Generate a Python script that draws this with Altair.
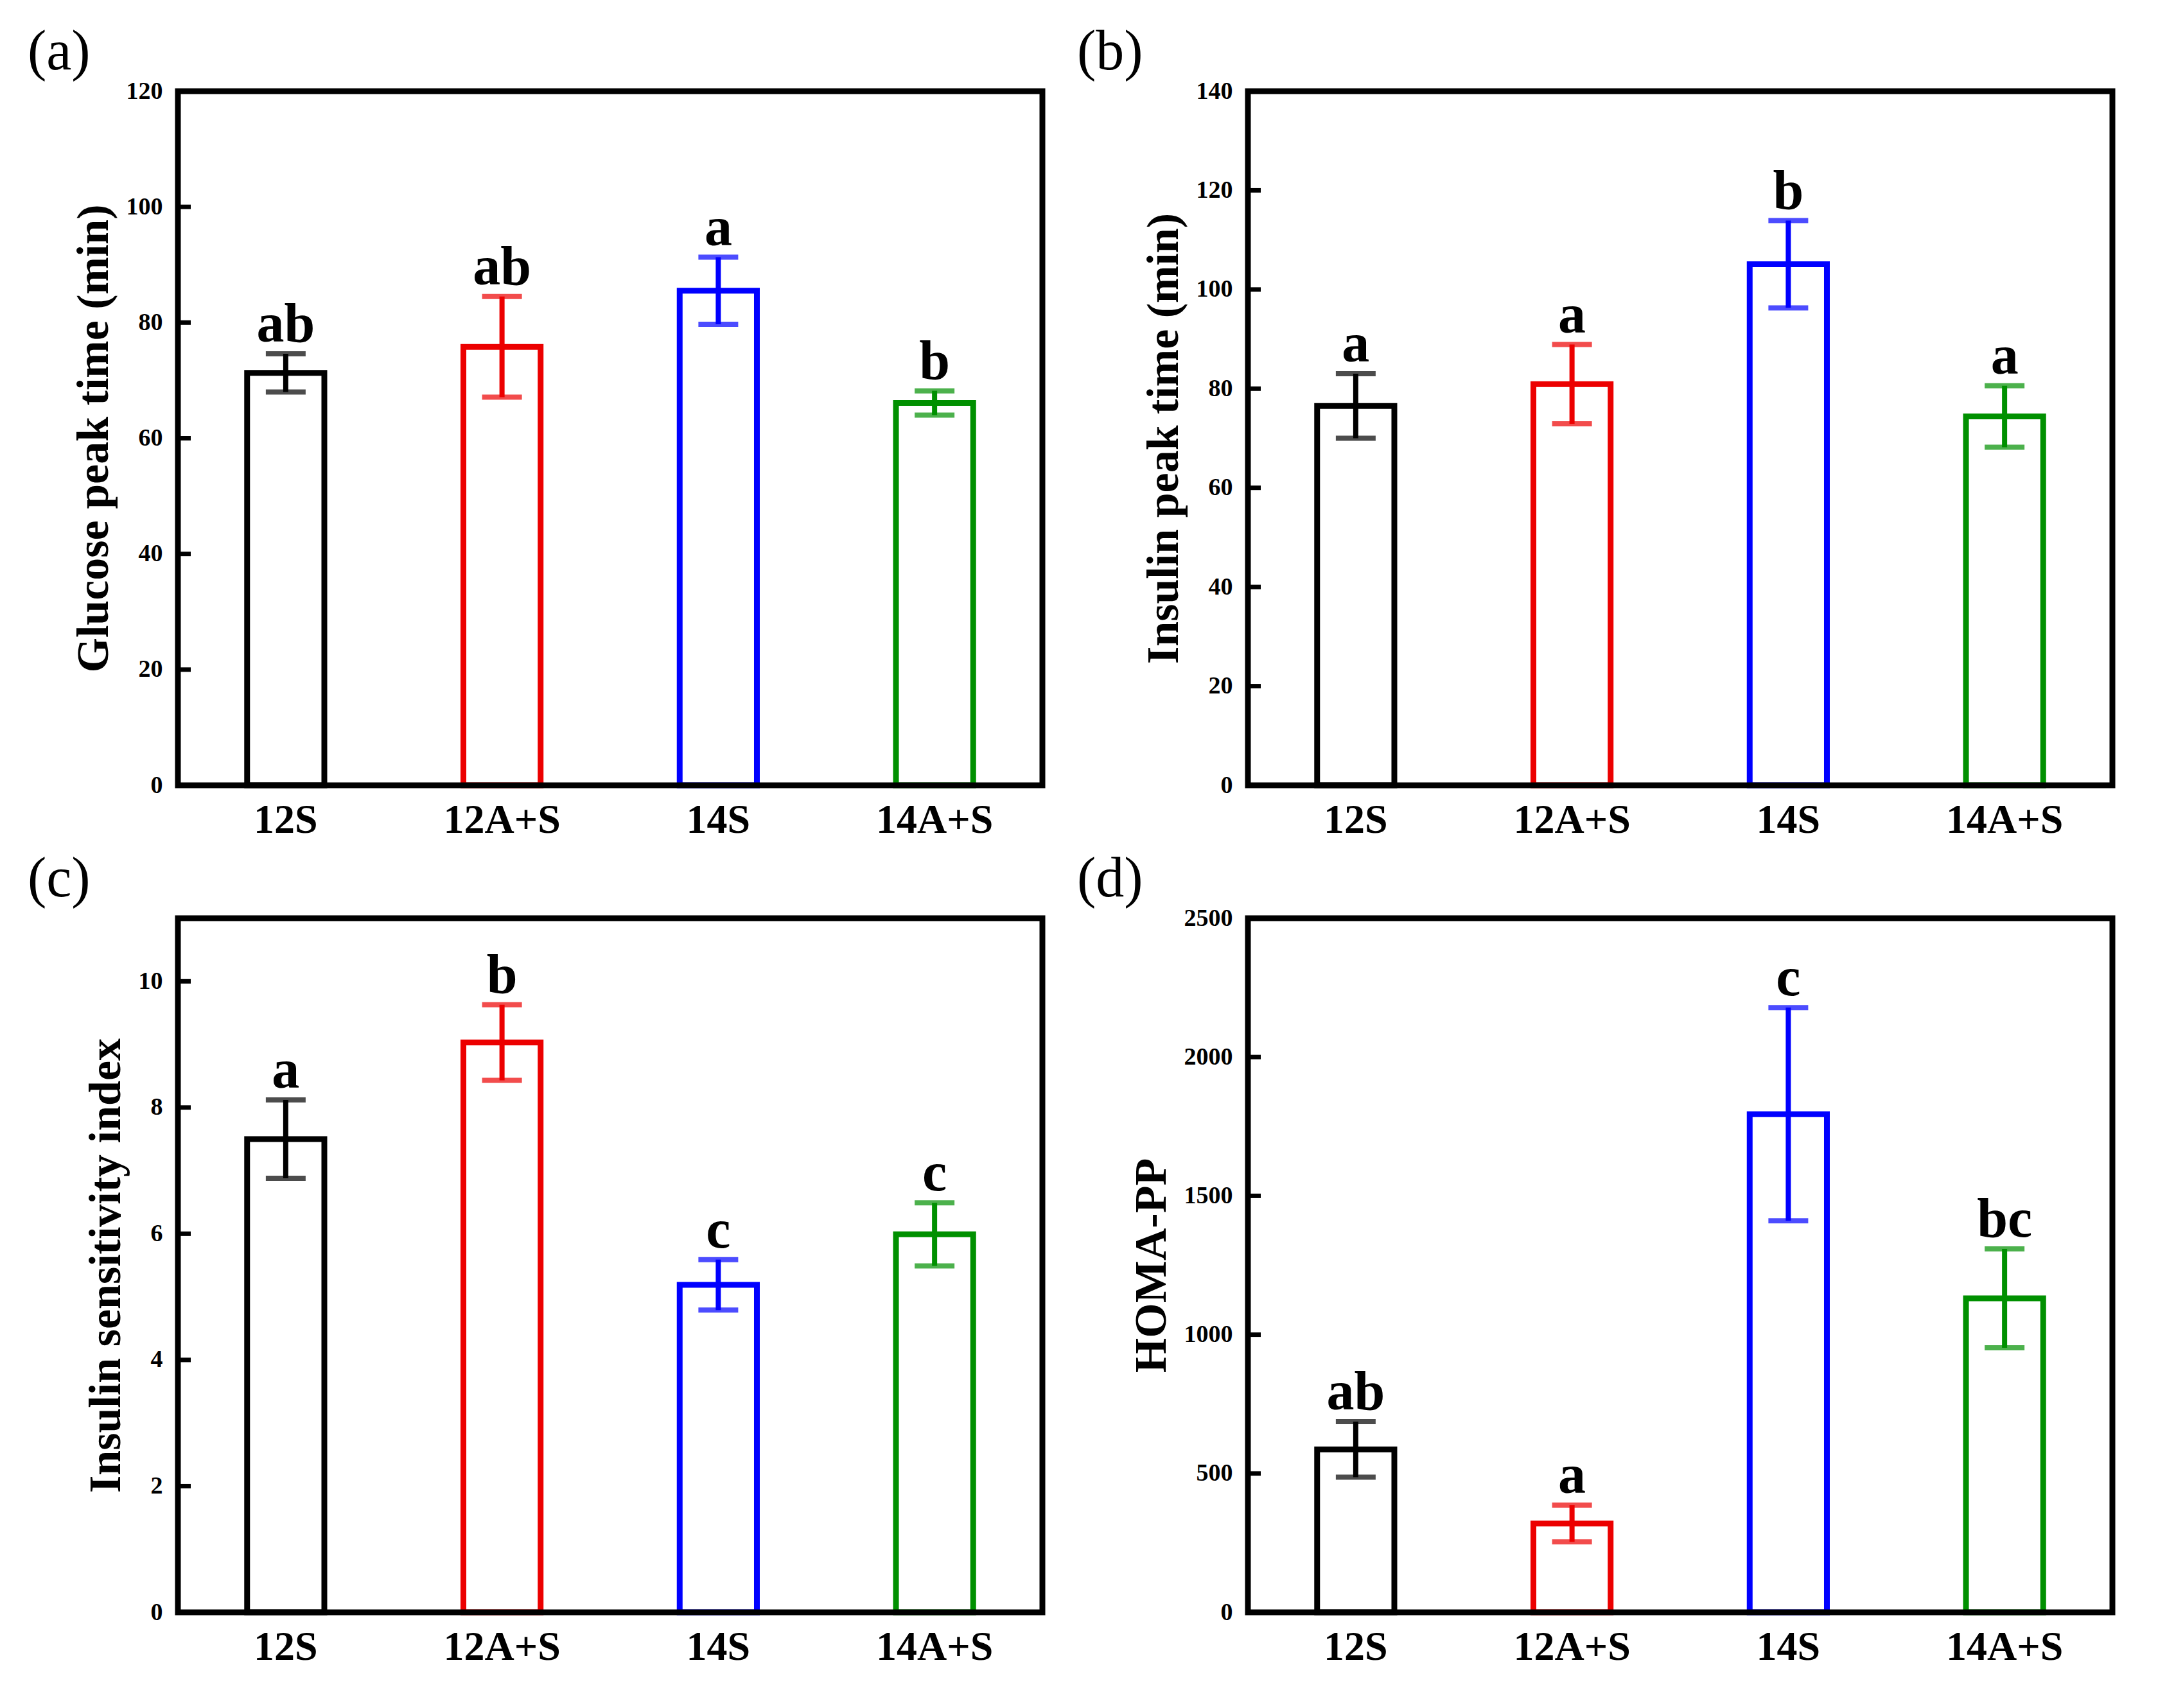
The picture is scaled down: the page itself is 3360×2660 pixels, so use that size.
import altair as alt
import pandas as pd

groups = ["12S", "12A+S", "14S", "14A+S"]
colors = ["#000000", "#ec0000", "#0000ff", "#009000"]

glucose_mean = [71.3, 75.8, 85.5, 66.1]
glucose_err = [3.3, 8.7, 5.8, 2.1]
glucose_letters = ["ab", "ab", "a", "b"]

insulin_mean = [76.5, 80.9, 105.1, 74.4]
insulin_err = [6.5, 8.0, 8.8, 6.2]
insulin_letters = ["a", "a", "b", "a"]

isi_mean = [7.50, 9.03, 5.19, 5.99]
isi_err = [0.62, 0.60, 0.40, 0.50]
isi_letters = ["a", "b", "c", "c"]

homa_mean = [587, 320, 1794, 1131]
homa_err = [100, 66, 384, 178]
homa_letters = ["ab", "a", "c", "bc"]

FONT = "Liberation Serif"
W, H = 1346, 1081


def panel(mean, err, letters, title, domain, ticks, tag, tag_dx):
    df = pd.DataFrame({
        "g": groups,
        "m": mean,
        "lo": [m - e for m, e in zip(mean, err)],
        "hi": [m + e for m, e in zip(mean, err)],
        "lab": letters,
    })
    xscale = alt.Scale(domain=groups, paddingInner=0.643, paddingOuter=0.32)
    xaxis = alt.Axis(title=None, labelAngle=0, labelFont=FONT, labelFontSize=64,
                     labelFontWeight="bold", labelColor="black", labelPadding=22,
                     labelLimit=0, ticks=False, domain=False, grid=False)
    yscale = alt.Scale(domain=domain, nice=False, zero=True)
    yaxis = alt.Axis(values=ticks, format="d", title=title, titleFont=FONT, titleFontSize=70,
                     titleFontWeight="bold", titleColor="black", titlePadding=14,
                     labelFont=FONT, labelFontSize=38, labelFontWeight="bold",
                     labelColor="black", labelPadding=24, labelLimit=0, ticks=False,
                     domain=False, grid=False)
    x = alt.X("g:N", sort=groups, scale=xscale, axis=xaxis)
    cscale = alt.Scale(domain=groups, range=colors)

    def Y(field):
        return alt.Y(field, type="quantitative", scale=yscale, axis=yaxis, title=title)

    base = alt.Chart(df)
    bars = base.mark_bar(fill="white", strokeWidth=9).encode(
        x=x, y=Y("m"), stroke=alt.Stroke("g:N", scale=cscale, legend=None))
    stems = base.mark_rule(strokeWidth=8).encode(
        x=x, y=Y("lo"), y2="hi:Q", color=alt.Color("g:N", scale=cscale, legend=None))
    cap_hi = base.mark_tick(thickness=8, size=62, orient="horizontal").encode(
        x=x, y=Y("hi"), color=alt.Color("g:N", scale=cscale, legend=None))
    cap_lo = base.mark_tick(thickness=8, size=62, orient="horizontal").encode(
        x=x, y=Y("lo"), color=alt.Color("g:N", scale=cscale, legend=None))
    labels = base.mark_text(font=FONT, fontSize=86, fontWeight="bold", color="black",
                            baseline="alphabetic", dy=-19).encode(
        x=x, y=Y("hi"), text="lab:N")
    tick_df = pd.DataFrame({"t": ticks})
    tickmarks = alt.Chart(tick_df).mark_rule(strokeWidth=7, color="black").encode(
        y=Y("t"), x=alt.value(0), x2=alt.value(20))
    frame = alt.Chart(pd.DataFrame({"k": [0]})).mark_rect(
        fillOpacity=0, stroke="black", strokeWidth=9).encode(
        x=alt.value(0), x2=alt.value(W), y=alt.value(0), y2=alt.value(H))
    tagc = alt.Chart(pd.DataFrame({"tag": [tag]})).mark_text(
        font=FONT, fontSize=88, align="left", baseline="alphabetic", color="black").encode(
        text="tag:N", x=alt.value(tag_dx), y=alt.value(-34))
    return alt.layer(bars, stems, cap_hi, cap_lo, labels, tickmarks, frame, tagc).properties(
        width=W, height=H)


pa = panel(glucose_mean, glucose_err, glucose_letters, "Glucose peak time (min)",
           [0, 120], [0, 20, 40, 60, 80, 100, 120], "(a)", -234)
pb = panel(insulin_mean, insulin_err, insulin_letters, "Insulin peak time (min)",
           [0, 140], [0, 20, 40, 60, 80, 100, 120, 140], "(b)", -266)
pc = panel(isi_mean, isi_err, isi_letters, "Insulin sensitivity index",
           [0, 11], [0, 2, 4, 6, 8, 10], "(c)", -234)
pd_ = panel(homa_mean, homa_err, homa_letters, "HOMA-PP",
            [0, 2500], [0, 500, 1000, 1500, 2000, 2500], "(d)", -266)

chart = alt.concat(pa, pb, pc, pd_, columns=2, spacing={"row": 207, "column": 320},
                   bounds="flush").properties(
    padding={"left": 43, "top": 38, "right": 40, "bottom": 40},
    background="white",
).configure_view(stroke=None)

chart.save("out.html", embed_options={"renderer": "svg", "actions": False})
